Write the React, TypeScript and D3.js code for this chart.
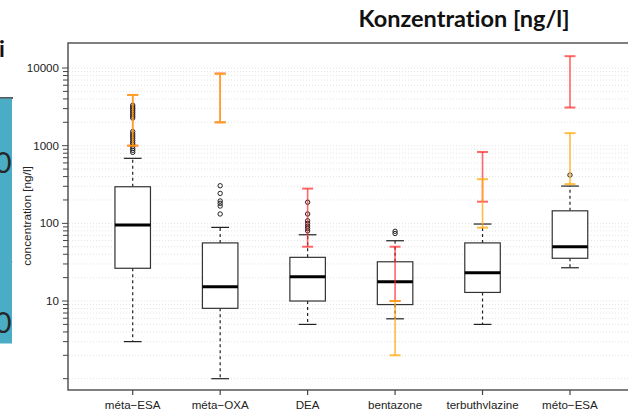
import React, { useEffect } from "react";
import * as d3 from "d3";

const categories = ["méta−ESA", "méta−OXA", "DEA", "bentazone", "terbuthylazine", "méto−ESA"];
const q1Values = [26.4, 8.05, 10, 9.0, 12.9, 35.5];
const medianValues = [95, 15.3, 20.5, 17.7, 23.1, 50];
const q3Values = [296, 56, 36.5, 32, 56, 145];
const whiskerLow = [3.0, 1.0, 5.0, 5.9, 5.0, 26.8];
const whiskerHigh = [687, 88.7, 71.3, 59.7, 98, 302];
const outlierValues = [
  [820, 870, 920, 980, 1040, 1100, 1170, 1250, 1330, 1420, 1520, 2270, 2400, 2550, 2700, 2850, 3000, 3150, 3320],
  [132, 167, 181, 194, 243, 305],
  [80, 86, 92, 100, 108, 132, 187],
  [74, 79],
  [],
  [419],
];
const redLow = [1000, 2000, 50, 10, 190, 3100];
const redHigh = [4500, 8500, 280, 50, 830, 14200];
const orangeLow = [1000, 2000, null, 2, 88, 320];
const orangeHigh = [4500, 8400, null, 10, 370, 1450];
const yLabelTicks = [10, 100, 1000, 10000];
const title = "Konzentration [ng/l]";
const yTitle = "concentration [ng/l]";

export default function App() {
  useEffect(() => {
    document.body.style.margin = "0";
  }, []);

  const left = 68, right = 634.7, top = 43, bottom = 390;
  const x = d3.scaleLinear().domain([0.26, 6.74]).range([left, right]);
  const y = d3.scaleLog().domain([0.715, 20990]).range([bottom, top]);
  const halfW = x(1.203) - x(1);
  const capW = halfW / 2;
  const ticks = y.ticks().filter((t) => t >= 1 && t <= 10000);
  const red = "rgba(255,40,40,0.7)";
  const orange = "rgba(255,172,20,0.8)";
  const fontAxis = "'Liberation Sans', Arial, Helvetica, sans-serif";
  const fontSlide = "Lato, 'Open Sans', sans-serif";
  const noLig = { fontVariantLigatures: "none", fontFeatureSettings: '"liga" 0, "dlig" 0' } as React.CSSProperties;

  const errBar = (lo: number | null, hi: number | null, cx: number, color: string, key: string) => {
    if (lo == null || hi == null) return null;
    return (
      <g key={key}>
        <line x1={cx} x2={cx} y1={y(lo)} y2={y(hi)} stroke={color} strokeWidth={1.6} />
        <line x1={cx - 5.5} x2={cx + 5.5} y1={y(lo)} y2={y(lo)} stroke={color} strokeWidth={2} />
        <line x1={cx - 5.5} x2={cx + 5.5} y1={y(hi)} y2={y(hi)} stroke={color} strokeWidth={2} />
      </g>
    );
  };

  return (
    <div style={{ position: "absolute", left: 0, top: 0 }}>
      <svg width={628} height={409} style={{ display: "block", background: "#fff" }}>
        {/* left slide fragment */}
        <text x={-1} y={57} fontFamily={fontSlide} fontWeight={700} fontSize={23} fill="#111">i</text>
        <line x1={0} x2={13} y1={98} y2={98} stroke="#222" strokeWidth={1.5} />
        <rect x={0} y={98.5} width={12} height={245} fill="#4BACC6" />
        <text x={11.5} y={173} textAnchor="end" fontFamily={fontSlide} fontSize={29} fill="#262626">0</text>
        <text x={11.5} y={333} textAnchor="end" fontFamily={fontSlide} fontSize={29} fill="#262626">0</text>
        <rect x={11.5} y={261.5} width={1} height={1} fill="#999" />

        {/* title */}
        <text x={464} y={27} textAnchor="middle" fontFamily={fontSlide} fontWeight={700} fontSize={23.5} fill="#111" style={noLig}>
          {title}
        </text>

        {/* grid */}
        {ticks.map((t, i) => (
          <line key={"g" + i} x1={left + 1} x2={628} y1={y(t)} y2={y(t)} stroke="#dcdcdc" strokeWidth={0.8} strokeDasharray="1,2" />
        ))}

        {/* boxes */}
        {categories.map((c, i) => {
          const cx = x(i + 1);
          return (
            <g key={"b" + i}>
              <line x1={cx} x2={cx} y1={y(q3Values[i])} y2={y(whiskerHigh[i])} stroke="#222" strokeWidth={1.2} strokeDasharray="3,3" />
              <line x1={cx} x2={cx} y1={y(q1Values[i])} y2={y(whiskerLow[i])} stroke="#222" strokeWidth={1.2} strokeDasharray="3,3" />
              <line x1={cx - capW} x2={cx + capW} y1={y(whiskerHigh[i])} y2={y(whiskerHigh[i])} stroke="#222" strokeWidth={1.2} />
              <line x1={cx - capW} x2={cx + capW} y1={y(whiskerLow[i])} y2={y(whiskerLow[i])} stroke="#222" strokeWidth={1.2} />
              <rect x={cx - halfW} y={y(q3Values[i])} width={halfW * 2} height={y(q1Values[i]) - y(q3Values[i])} fill="#fff" stroke="#333" strokeWidth={1.2} />
              <line x1={cx - halfW} x2={cx + halfW} y1={y(medianValues[i])} y2={y(medianValues[i])} stroke="#000" strokeWidth={3} />
              {outlierValues[i].map((v, j) => (
                <circle key={j} cx={cx} cy={y(v)} r={2.2} fill="none" stroke="#222" strokeWidth={1} />
              ))}
            </g>
          );
        })}

        {/* red / orange ranges */}
        {categories.map((c, i) => {
          const cx = x(i + 1);
          return (
            <g key={"e" + i}>
              {errBar(redLow[i], redHigh[i], cx, red, "r")}
              {errBar(orangeLow[i], orangeHigh[i], cx, orange, "o")}
            </g>
          );
        })}

        {/* frame */}
        <rect x={left} y={top} width={right - left} height={bottom - top} fill="none" stroke="#555" strokeWidth={1.5} />

        {/* y axis ticks */}
        {ticks.map((t, i) => {
          const major = yLabelTicks.includes(t);
          return <line key={"yt" + i} x1={major ? left - 6 : left - 5} x2={left} y1={y(t)} y2={y(t)} stroke="#444" strokeWidth={1} />;
        })}
        {yLabelTicks.map((t, i) => (
          <text key={"yl" + i} x={59} y={y(t)} dy="0.35em" textAnchor="end" fontFamily={fontAxis} fontSize={11.6} fill="#222">
            {t}
          </text>
        ))}
        <text transform={`translate(31,216) rotate(-90)`} textAnchor="middle" fontFamily={fontAxis} fontSize={11.8} fill="#222">
          {yTitle}
        </text>

        {/* x axis ticks and labels */}
        {categories.map((c, i) => (
          <g key={"xt" + i}>
            <line x1={x(i + 1)} x2={x(i + 1)} y1={bottom} y2={bottom + 5} stroke="#444" strokeWidth={1.2} />
            <text x={x(i + 1)} y={408.5} textAnchor="middle" fontFamily={fontAxis} fontSize={11.6} fill="#222">
              {c}
            </text>
          </g>
        ))}
      </svg>
    </div>
  );
}
